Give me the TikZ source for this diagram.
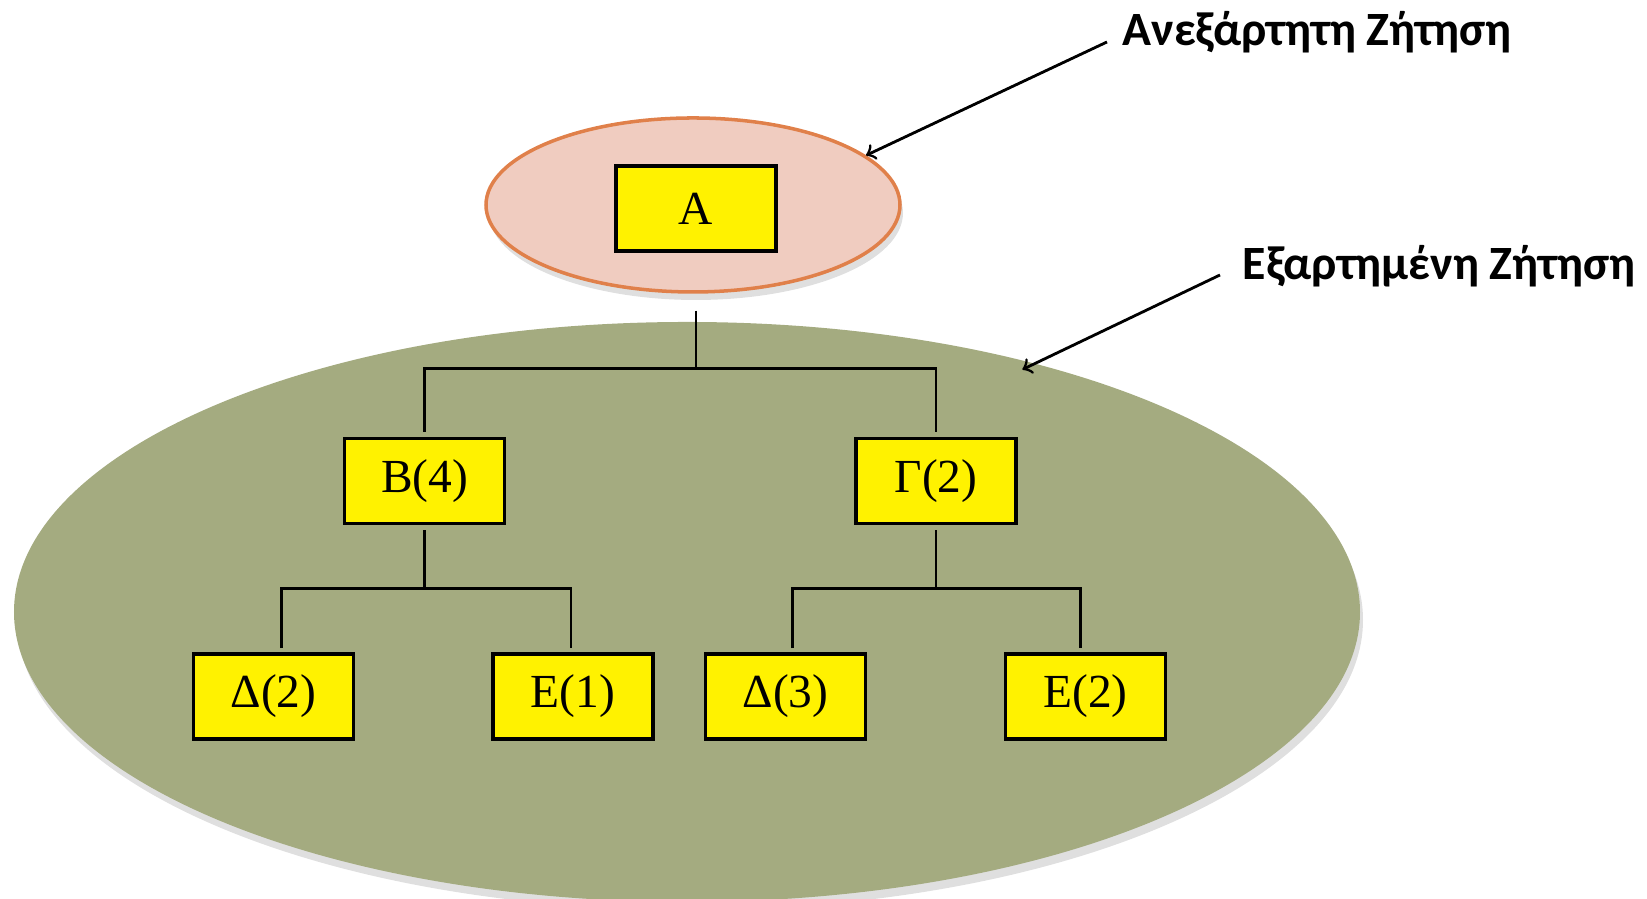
\documentclass[tikz,border=0pt]{standalone}
\usepackage{fontspec}
\setmainfont{Liberation Serif}
\newfontfamily\labelfont{Carlito}
\usepackage{tikz}
\usetikzlibrary{shapes.geometric,shadows,positioning}
\definecolor{indepfill}{HTML}{F0CCC0}
\definecolor{indepline}{HTML}{E0804A}
\definecolor{depfill}{HTML}{A4AB80}
\tikzset{item/.style={draw=black,line width=1pt,fill=yellow,minimum width=1.60cm,minimum height=0.85cm,inner sep=0pt,font=\fontsize{13.5}{15}\selectfont}}

\begin{document}
\begin{tikzpicture}[link/.style={line width=0.8pt},
                    note/.style={anchor=west,inner sep=0pt,font=\labelfont\bfseries\fontsize{13.6}{15}\selectfont}]
                \useasboundingbox (0,0) rectangle (16.47,8.99);
                % demand areas
                \node [ellipse,fill=depfill,minimum width=13.46cm,minimum height=5.8cm,
                    drop shadow={shadow xshift=0.3mm,shadow yshift=-0.8mm,opacity=0.25}] (dep) at (6.87,2.87) {};
                \node [ellipse,draw=indepline,line width=1pt,fill=indepfill,minimum width=4.14cm,minimum height=1.74cm,
                    drop shadow={shadow xshift=0.3mm,shadow yshift=-0.8mm,opacity=0.25}] (indep) at (6.93,6.94) {};
                % items
                \node [item] (A) at (6.96,6.905) {Α};
                \node [item] (B) at (4.245,4.18) {Β(4)};
                \node [item] (G) at (9.36,4.18) {Γ(2)};
                \node [item] (D2) at (2.735,2.025) {Δ(2)};
                \node [item] (E1) at (5.73,2.025) {Ε(1)};
                \node [item] (D3) at (7.855,2.025) {Δ(3)};
                \node [item] (E2) at (10.855,2.025) {Ε(2)};
                % tree
                \coordinate (topbar) at ([yshift=6.8mm]B.north);
                \draw [link] ([yshift=-1.7mm]indep.south -| A) -- (topbar -| A);
                \draw [link] ([yshift=0.5mm]B.north) |- (topbar -| G) -- ([yshift=0.5mm]G.north);
                \coordinate (barB) at ([yshift=-6.3mm]B.south);
                \draw [link] ([yshift=-0.5mm]B.south) -- (barB);
                \draw [link] ([xshift=0.8mm,yshift=0.4mm]D2.north) |- ([xshift=-0.2mm]barB -| E1) -- ([xshift=-0.2mm,yshift=0.4mm]E1.north);
                \coordinate (barG) at ([yshift=-6.3mm]G.south);
                \draw [link] ([yshift=-0.5mm]G.south) -- (barG);
                \draw [link] ([xshift=0.7mm,yshift=0.4mm]D3.north) |- ([xshift=-0.5mm]barG -| E2) -- ([xshift=-0.5mm,yshift=0.4mm]E2.north);
                % labels
                \node [note] (indeplabel) at (11.22,8.67) {Ανεξάρτητη Ζήτηση};
                \node [note] (deplabel) at (12.42,6.33) {Εξαρτημένη Ζήτηση};
                \draw [->,thick] ([xshift=-1.5mm,yshift=-1mm]indeplabel.west) -- (indep.16);
                \draw [->,thick] ([xshift=-2.2mm,yshift=-0.9mm]deplabel.west) -- ([xshift=-1.8mm,yshift=-0.5mm]dep.35);
            \end{tikzpicture}
\end{document}
